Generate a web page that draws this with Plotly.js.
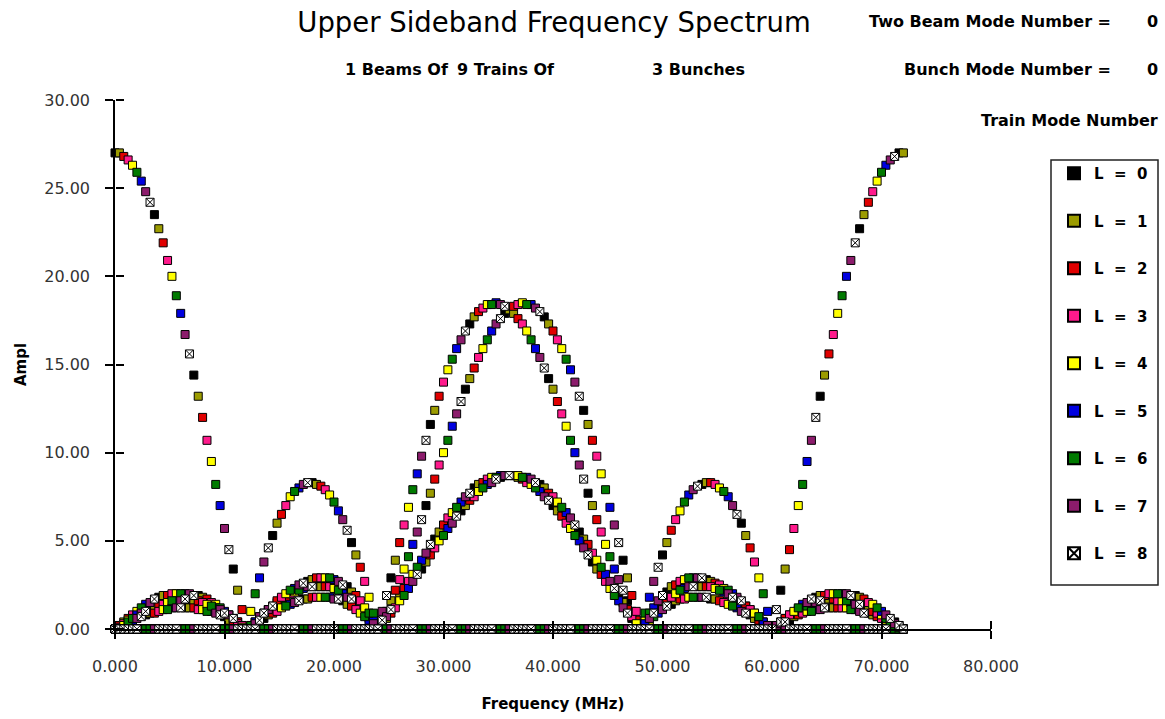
<!DOCTYPE html>
<html><head><meta charset="utf-8">
<script src="https://cdn.plot.ly/plotly-3.0.1.min.js"></script>
<style>html,body{margin:0;padding:0;background:#fff;}#chart{width:1165px;height:719px;}</style>
</head><body><div id="chart"></div>
<script>
// Frequency lines (MHz)
const freqMHz = [
0,0.4,0.8,1.2,1.6,2,2.4,2.8,3.2,
3.6,4,4.4,4.8,5.2,5.6,6,6.4,6.8,
7.2,7.6,8,8.4,8.8,9.2,9.6,10,10.4,
10.8,11.2,11.6,12,12.4,12.8,13.2,13.6,14,
14.4,14.8,15.2,15.6,16,16.4,16.8,17.2,17.6,
18,18.4,18.8,19.2,19.6,20,20.4,20.8,21.2,
21.6,22,22.4,22.8,23.2,23.6,24,24.4,24.8,
25.2,25.6,26,26.4,26.8,27.2,27.6,28,28.4,
28.8,29.2,29.6,30,30.4,30.8,31.2,31.6,32,
32.4,32.8,33.2,33.6,34,34.4,34.8,35.2,35.6,
36,36.4,36.8,37.2,37.6,38,38.4,38.8,39.2,
39.6,40,40.4,40.8,41.2,41.6,42,42.4,42.8,
43.2,43.6,44,44.4,44.8,45.2,45.6,46,46.4,
46.8,47.2,47.6,48,48.4,48.8,49.2,49.6,50,
50.4,50.8,51.2,51.6,52,52.4,52.8,53.2,53.6,
54,54.4,54.8,55.2,55.6,56,56.4,56.8,57.2,
57.6,58,58.4,58.8,59.2,59.6,60,60.4,60.8,
61.2,61.6,62,62.4,62.8,63.2,63.6,64,64.4,
64.8,65.2,65.6,66,66.4,66.8,67.2,67.6,68,
68.4,68.8,69.2,69.6,70,70.4,70.8,71.2,71.6,
72];

// Amplitude per train mode L
const ampL0 = [
27.0,0.2,0,0,0,0,0,0.8,1.1, 23.5,1.8,0,0,0,0,0,1.2,1.7, 14.4,1.9,0,0,0,0,0,0.7,0.8,
3.4,0.4,0,0,0,0,0,0.6,1.1, 5.3,1.5,0,0,0,0,0,1.7,2.7, 8.3,2.4,0,0,0,0,0,1.6,2.4,
4.9,1.4,0,0,0,0,0,0.3,1.0, 2.9,1.5,0,0,0,0,0,3.4,7.0, 11.6,5.1,0,0,0,0,0,6.7,13.6,
17.3,8.0,0,0,0,0,0,8.6,17.9, 18.1,8.7,0,0,0,0,0,8.2,17.7, 14.2,7.0,0,0,0,0,0,5.5,12.4,
7.7,3.8,0,0,0,0,0,1.9,3.9, 1.6,0.6,0,0,0,0,0,1.2,4.2, 2.1,1.4,0,0,0,0,0,2.4,8.2,
2.8,1.7,0,0,0,0,0,1.7,6.0, 1.3,0.8,0,0,0,0,0,0.2,2.2, 0.6,0.5,0,0,0,0,0,1.8,13.2,
1.6,1.2,0,0,0,0,0,1.9,22.7, 1.3,0.9,0,0,0,0,0,0.4,27.0, 0];
const ampL1 = [
0,27.0,0.4,0,0,0,0,0,0.9, 1.3,22.7,1.9,0,0,0,0,0,1.2, 1.6,13.2,1.8,0,0,0,0,0,0.5,
0.6,2.2,0.2,0,0,0,0,0,0.8, 1.3,6.0,1.7,0,0,0,0,0,1.7, 2.8,8.2,2.4,0,0,0,0,0,1.4,
2.1,4.2,1.2,0,0,0,0,0,0.6, 1.6,3.9,1.9,0,0,0,0,0,3.8, 7.7,12.4,5.5,0,0,0,0,0,7.0,
14.2,17.7,8.2,0,0,0,0,0,8.7, 18.1,17.9,8.6,0,0,0,0,0,8.0, 17.3,13.6,6.7,0,0,0,0,0,5.1,
11.6,7.0,3.4,0,0,0,0,0,1.5, 2.9,1.0,0.3,0,0,0,0,0,1.4, 4.9,2.4,1.6,0,0,0,0,0,2.4,
8.3,2.7,1.7,0,0,0,0,0,1.5, 5.3,1.1,0.6,0,0,0,0,0,0.4, 3.4,0.8,0.7,0,0,0,0,0,1.9,
14.4,1.7,1.2,0,0,0,0,0,1.8, 23.5,1.1,0.8,0,0,0,0,0,0.2, 27.0];
const ampL2 = [
0,0.2,26.8,0.6,0,0,0,0,0, 0.9,1.4,21.9,1.9,0,0,0,0,0, 1.2,1.6,12.0,1.7,0,0,0,0,0,
0.4,0.4,1.1,0,0,0,0,0,0, 0.9,1.6,6.5,1.8,0,0,0,0,0, 1.8,2.9,8.1,2.4,0,0,0,0,0,
1.3,1.9,3.5,0.9,0,0,0,0,0, 0.9,2.2,4.9,2.3,0,0,0,0,0, 4.2,8.5,13.2,5.9,0,0,0,0,0,
7.3,14.8,18.0,8.3,0,0,0,0,0, 8.7,18.3,17.6,8.5,0,0,0,0,0, 7.7,16.9,12.9,6.4,0,0,0,0,0,
4.8,10.7,6.2,3.1,0,0,0,0,0, 1.1,1.9,0.5,0,0,0,0,0,0, 1.7,5.6,2.5,1.7,0,0,0,0,0,
2.4,8.3,2.6,1.6,0,0,0,0,0, 1.3,4.6,0.9,0.5,0,0,0,0,0, 0.6,4.5,0.9,0.8,0,0,0,0,0,
1.9,15.6,1.7,1.2,0,0,0,0,0, 1.7,24.2,1.0,0.7,0,0,0,0,0, 0];
const ampL3 = [
0,0.1,0.3,26.6,0.8,0,0,0,0, 0,1.0,1.4,20.9,2.0,0,0,0,0, 0,1.1,1.5,10.7,1.5,0,0,0,0,
0,0.3,0.2,0,0.2,0,0,0,0, 0,1.0,1.8,7.0,2.0,0,0,0,0, 0,1.8,2.9,7.9,2.4,0,0,0,0,
0,1.1,1.6,2.7,0.6,0,0,0,0, 0,1.2,2.8,5.9,2.7,0,0,0,0, 0,4.6,9.3,14.0,6.3,0,0,0,0,
0,7.5,15.4,18.2,8.5,0,0,0,0, 0,8.7,18.4,17.3,8.3,0,0,0,0, 0,7.5,16.4,12.2,6.0,0,0,0,0,
0,4.3,9.8,5.5,2.7,0,0,0,0, 0,0.7,1.0,0,0.3,0,0,0,0, 0,1.8,6.2,2.7,1.7,0,0,0,0,
0,2.4,8.2,2.5,1.5,0,0,0,0, 0,1.1,3.8,0.7,0.3,0,0,0,0, 0,0.8,5.7,1.1,0.9,0,0,0,0,
0,2.0,16.7,1.6,1.2,0,0,0,0, 0,1.5,24.8,0.9,0.6,0,0,0,0, 0];
const ampL4 = [
0,0,0.2,0.5,26.3,1.0,0,0,0, 0,0,1.1,1.5,20.0,2.0,0,0,0, 0,0,1.1,1.4,9.5,1.4,0,0,0,
0,0,0.1,0,1.0,0.4,0,0,0, 0,0,1.2,2.0,7.5,2.1,0,0,0, 0,0,1.8,2.9,7.6,2.3,0,0,0,
0,0,0.9,1.2,1.8,0.3,0,0,0, 0,0,1.6,3.4,6.9,3.1,0,0,0, 0,0,5.0,10.0,14.7,6.6,0,0,0,
0,0,7.8,15.9,18.4,8.6,0,0,0, 0,0,8.7,18.5,16.9,8.2,0,0,0, 0,0,7.2,15.9,11.5,5.7,0,0,0,
0,0,3.9,8.8,4.8,2.3,0,0,0, 0,0,0.3,0,0.5,0.5,0,0,0, 0,0,2.0,6.7,2.8,1.8,0,0,0,
0,0,2.3,8.0,2.3,1.4,0,0,0, 0,0,0.9,2.9,0.4,0.1,0,0,0, 0,0,1.0,7.0,1.2,1.0,0,0,0,
0,0,2.0,17.9,1.6,1.2,0,0,0, 0,0,1.4,25.4,0.8,0.5,0,0,0, 0];
const ampL5 = [
0,0,0,0,0.5,0.8,25.4,1.4,0, 0,0,0,0,1.2,1.6,17.9,2.0,0, 0,0,0,0,1.0,1.2,7.0,1.0,0,
0,0,0,0,0.1,0.4,2.9,0.9,0, 0,0,0,0,1.4,2.3,8.0,2.3,0, 0,0,0,0,1.8,2.8,6.7,2.0,0,
0,0,0,0,0.5,0.5,0,0.3,0, 0,0,0,0,2.3,4.8,8.8,3.9,0, 0,0,0,0,5.7,11.5,15.9,7.2,0,
0,0,0,0,8.2,16.9,18.5,8.7,0, 0,0,0,0,8.6,18.4,15.9,7.8,0, 0,0,0,0,6.6,14.7,10.0,5.0,0,
0,0,0,0,3.1,6.9,3.4,1.6,0, 0,0,0,0,0.3,1.8,1.2,0.9,0, 0,0,0,0,2.3,7.6,2.9,1.8,0,
0,0,0,0,2.1,7.5,2.0,1.2,0, 0,0,0,0,0.4,1.0,0,0.1,0, 0,0,0,0,1.4,9.5,1.4,1.1,0,
0,0,0,0,2.0,20.0,1.5,1.1,0, 0,0,0,0,1.0,26.3,0.5,0.2,0, 0];
const ampL6 = [
0,0,0,0.4,0.6,25.9,1.2,0,0, 0,0,0,1.1,1.6,18.9,2.0,0,0, 0,0,0,1.0,1.3,8.2,1.2,0,0,
0,0,0,0,0.2,2.0,0.7,0,0, 0,0,0,1.3,2.2,7.8,2.2,0,0, 0,0,0,1.8,2.9,7.2,2.2,0,0,
0,0,0,0.7,0.9,0.9,0,0,0, 0,0,0,1.9,4.1,7.9,3.5,0,0, 0,0,0,5.3,10.7,15.3,6.9,0,0,
0,0,0,8.0,16.4,18.4,8.6,0,0, 0,0,0,8.6,18.4,16.4,8.0,0,0, 0,0,0,6.9,15.3,10.7,5.3,0,0,
0,0,0,3.5,7.9,4.1,1.9,0,0, 0,0,0,0,0.9,0.9,0.7,0,0, 0,0,0,2.2,7.2,2.9,1.8,0,0,
0,0,0,2.2,7.8,2.2,1.3,0,0, 0,0,0,0.7,2.0,0.2,0,0,0, 0,0,0,1.2,8.2,1.3,1.0,0,0,
0,0,0,2.0,18.9,1.6,1.1,0,0, 0,0,0,1.2,25.9,0.6,0.4,0,0, 0];
const ampL7 = [
0,0,0,0,0,0.6,0.9,24.8,1.5, 0,0,0,0,0,1.2,1.6,16.7,2.0, 0,0,0,0,0,0.9,1.1,5.7,0.8,
0,0,0,0,0,0.3,0.7,3.8,1.1, 0,0,0,0,0,1.5,2.5,8.2,2.4, 0,0,0,0,0,1.7,2.7,6.2,1.8,
0,0,0,0,0,0.3,0,1.0,0.7, 0,0,0,0,0,2.7,5.5,9.8,4.3, 0,0,0,0,0,6.0,12.2,16.4,7.5,
0,0,0,0,0,8.3,17.3,18.4,8.7, 0,0,0,0,0,8.5,18.2,15.4,7.5, 0,0,0,0,0,6.3,14.0,9.3,4.6,
0,0,0,0,0,2.7,5.9,2.8,1.2, 0,0,0,0,0,0.6,2.7,1.6,1.1, 0,0,0,0,0,2.4,7.9,2.9,1.8,
0,0,0,0,0,2.0,7.0,1.8,1.0, 0,0,0,0,0,0.2,0,0.2,0.3, 0,0,0,0,0,1.5,10.7,1.5,1.1,
0,0,0,0,0,2.0,20.9,1.4,1.0, 0,0,0,0,0,0.8,26.6,0.3,0.1, 0];
const ampL8 = [
0,0,0,0,0,0,0.7,1.0,24.2, 1.7,0,0,0,0,0,1.2,1.7,15.6, 1.9,0,0,0,0,0,0.8,0.9,4.5,
0.6,0,0,0,0,0,0.5,0.9,4.6, 1.3,0,0,0,0,0,1.6,2.6,8.3, 2.4,0,0,0,0,0,1.7,2.5,5.6,
1.7,0,0,0,0,0,0,0.5,1.9, 1.1,0,0,0,0,0,3.1,6.2,10.7, 4.8,0,0,0,0,0,6.4,12.9,16.9,
7.7,0,0,0,0,0,8.5,17.6,18.3, 8.7,0,0,0,0,0,8.3,18.0,14.8, 7.3,0,0,0,0,0,5.9,13.2,8.5,
4.2,0,0,0,0,0,2.3,4.9,2.2, 0.9,0,0,0,0,0,0.9,3.5,1.9, 1.3,0,0,0,0,0,2.4,8.1,2.9,
1.8,0,0,0,0,0,1.8,6.5,1.6, 0.9,0,0,0,0,0,0,1.1,0.4, 0.4,0,0,0,0,0,1.7,12.0,1.6,
1.2,0,0,0,0,0,1.9,21.9,1.4, 0.9,0,0,0,0,0,0.6,26.8,0.2, 0];

const seriesAmps = [ampL0, ampL1, ampL2, ampL3, ampL4, ampL5, ampL6, ampL7, ampL8];
const modeNumbers = [0,1,2,3,4,5,6,7,8];

// styling
const markerFill = ['#000000','#9c9c00','#e00000','#ff1a8c','#ffff00','#0000e0','#007a00','#8c1c6c','#ffffff'];
const markerSymbol = ['square','square','square','square','square','square','square','square','square-x'];

// pixel -> paper helpers (plot area: x 115..991, y 100..629)
const PL=115, PR=991, PT=100, PB=629;
const px = v => (v-PL)/(PR-PL);
const py = v => (PB-v)/(PB-PT);

const nb = '\u00a0';
const traces = seriesAmps.map((a,i)=>({
  type:'scatter', mode:'markers', x:freqMHz, y:a,
  name:'<b>L'+nb+nb+'='+nb+nb+modeNumbers[i]+'</b>',
  legendgroup:'g'+i, cliponaxis:false, hoverinfo:'x+y+name',
  marker:{symbol:markerSymbol[i], size:8, color:markerFill[i], line:{color:'#000', width:1}}
}));
// carrier for the overlay axes that draw the inner half of the crossing ticks
traces.push({type:'scatter', mode:'markers', x:[0], y:[0], xaxis:'x2', yaxis:'y2', showlegend:false,
             hoverinfo:'skip', marker:{opacity:0, size:1}});

const boldFont = {family:'DejaVu Sans, sans-serif', size:16, color:'#000'};
const ann = (text, x, y, xanchor) => ({text:'<b>'+text+'</b>', x:px(x), y:py(y), xref:'paper', yref:'paper', xanchor:xanchor||'center', yanchor:'middle', showarrow:false, font:boldFont});

const tickStyle = {tickwidth:1.5, tickcolor:'#000', ticklen:8, showgrid:false, zeroline:false};
const layout = {
  width:1165, height:719,
  margin:{l:PL, r:1165-PR, t:PT, b:719-PB},
  paper_bgcolor:'#fff', plot_bgcolor:'#fff',
  font:{family:'DejaVu Sans, sans-serif', color:'#000'},
  hovermode:'closest',
  title:{text:'Upper Sideband Frequency Spectrum', font:{family:'DejaVu Sans, sans-serif', size:27.5, color:'#000'},
         xref:'paper', x:px(554), xanchor:'center', yref:'container', y:1-22/719, yanchor:'middle'},
  xaxis:Object.assign({range:[0,80], tick0:0, dtick:10, tickformat:'.3f', ticks:'outside',
         showline:true, linecolor:'#000', linewidth:1.5,
         tickfont:{size:16, color:'#333'}, ticklabelstandoff:14,
         title:{text:'<b>Frequency (MHz)</b>', font:{family:'DejaVu Sans, sans-serif', size:15, color:'#000'}, standoff:24}}, tickStyle),
  yaxis:Object.assign({range:[0,30], tick0:0, dtick:5, tickformat:'.2f', ticks:'outside',
         showline:true, linecolor:'#000', linewidth:1.5,
         tickfont:{size:16, color:'#333'}, ticklabelstandoff:12,
         title:{text:'<b>Ampl</b>', font:{family:'DejaVu Sans, sans-serif', size:15, color:'#000'}, standoff:14}}, tickStyle),
  // inner halves of the crossing ticks: free axes sitting on the plot edges, ticks pointing into the plot
  xaxis2:Object.assign({overlaying:'x', anchor:'free', position:0, side:'top', range:[0,80], tick0:0, dtick:10, ticks:'outside',
          showticklabels:false, showline:false}, tickStyle),
  yaxis2:Object.assign({overlaying:'y', anchor:'free', position:0, side:'right', range:[0,30], tick0:0, dtick:5, ticks:'outside',
          showticklabels:false, showline:false}, tickStyle),
  showlegend:true,
  legend:{x:px(1054), xanchor:'left', y:py(157), yanchor:'top', bgcolor:'rgba(0,0,0,0)', borderwidth:0,
          font:{family:'DejaVu Sans, sans-serif', size:15, color:'#000'}, tracegroupgap:25, itemsizing:'constant'},
  shapes:[{type:'rect', xref:'paper', yref:'paper', x0:px(1051), x1:px(1158), y0:py(585), y1:py(160),
           line:{color:'#222', width:1.5}, fillcolor:'rgba(0,0,0,0)'}],
  annotations:[
    ann('1 Beams Of', 397, 69), ann('9 Trains Of', 506, 69), ann('3 Bunches', 698, 69),
    ann('Two Beam Mode Number =', 1113, 22, 'right'), ann('0', 1152, 22),
    ann('Bunch Mode Number =', 1113, 70, 'right'), ann('0', 1152, 70),
    ann('Train Mode Number', 1160, 120, 'right')
  ]
};
Plotly.newPlot('chart', traces, layout, {displayModeBar:false, responsive:false});
</script></body></html>
